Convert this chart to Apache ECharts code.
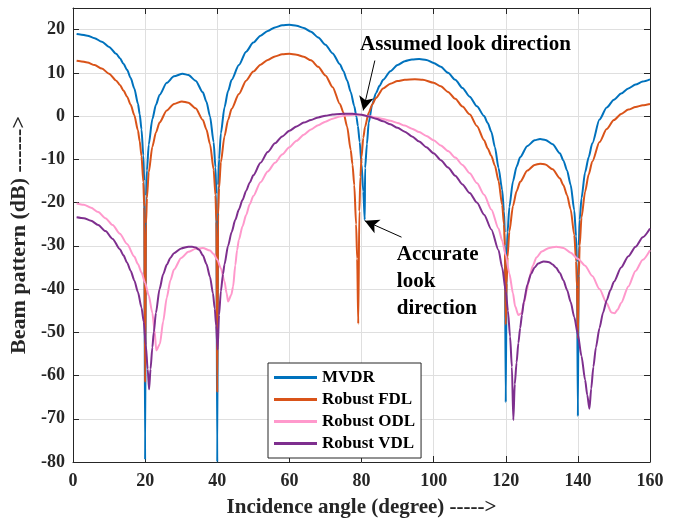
<!DOCTYPE html>
<html>
<head>
<meta charset="utf-8">
<script src="https://cdn.jsdelivr.net/npm/echarts@6/dist/echarts.min.js"></script>
<style>
  html, body { margin: 0; padding: 0; background: #fff; }
  #chart { width: 680px; height: 523px; }
</style>
</head>
<body>
<div id="chart"></div>
<script>
// Beam patterns (dB) versus incidence angle (degree)
const xTicks = [0, 20, 40, 60, 80, 100, 120, 140, 160];
const yTicks = [-80, -70, -60, -50, -40, -30, -20, -10, 0, 10, 20];
const seriesNames = ['MVDR', 'Robust FDL', 'Robust ODL', 'Robust VDL'];

const mvdrAngle = [1, 2, 4, 6, 8, 10, 12, 13, 14, 15, 16, 17, 18, 18.5, 19, 19.5, 19.75, 20,
  20.25, 20.5, 21, 22, 23, 24, 26, 28, 30.4, 32, 34, 36, 37, 38, 39, 39.5, 39.75, 40,
  40.25, 40.5, 41, 42, 43, 44, 46, 48, 50, 52, 54, 56, 58, 60, 62, 64, 66, 68, 70, 72, 74, 75, 76, 77, 78, 78.6, 79, 79.5, 80, 80.5, 80.9,
  81, 81.5, 82, 83, 84, 85, 86, 88, 90, 92, 94, 96, 98, 100, 102, 104, 106, 108, 110, 112, 114, 115, 116, 117, 118, 119, 119.5, 119.75, 120,
  120.25, 120.5, 121, 122, 123, 124, 126, 128, 129.5, 131, 133, 135, 136, 137, 138, 139, 139.5, 139.75, 140,
  140.25, 140.5, 141, 142, 143, 144, 146, 148, 150, 152, 154, 156, 158, 160];
const mvdrGain = [19.0, 18.9, 18.6, 18.0, 17.2, 16.0, 14.4, 13.4, 12.1, 10.7, 8.8, 6.4, 2.9, 0.4, -3.1, -9.1, -15, -79.5,
  -18.5, -12.6, -6.6, -0.7, 2.6, 4.9, 7.7, 9.2, 9.8, 9.5, 8.2, 5.5, 3.3, -0.1, -6.0, -11.9, -18, -80,
  -16, -10, -4, 2.0, 5.8, 8.4, 11.8, 14.9, 17.0, 18.6, 19.7, 20.5, 21.0, 21.1, 20.9, 20.4, 19.5, 18.2, 16.5, 14.5, 12.0, 10.4, 8.3, 5.6, 2.3, -0.2, -2.3, -6, -11, -17.5, -24,
  -12, -6.5, -1.5, 2.8, 5.3, 7.0, 8.4, 10.4, 11.8, 12.7, 13.1, 13.2, 13.0, 12.3, 11.4, 10.0, 8.4, 6.5, 4.5, 2.3, 0.0, -1.6, -3.6, -7.2, -12, -17, -22, -27, -66.2,
  -33, -26.9, -21, -15.1, -11.7, -9.5, -6.9, -5.6, -5.3, -5.5, -6.5, -8.6, -10.3, -12.6, -15.9, -21.8, -27.8, -33.8, -69.4,
  -30, -24, -19, -13, -9.5, -6.3, -0.8, 2.0, 3.8, 5.2, 6.4, 7.3, 8.0, 8.5];

const fdlAngle = [1, 2, 4, 6, 8, 10, 12, 13, 14, 15, 16, 17, 18, 18.5, 19, 19.5, 19.75, 20,
  20.25, 20.5, 21, 22, 23, 24, 26, 28, 30.2, 32, 34, 36, 37, 38, 39, 39.5, 39.75, 40,
  40.25, 40.5, 41, 42, 43, 44, 46, 48, 50, 52, 54, 56, 58, 60, 62, 64, 66, 68, 70, 72, 74, 75, 76, 77, 77.5, 78, 78.5, 78.8, 79.1,
  79.4, 79.7, 80, 80.5, 81, 82, 83, 84, 86, 88, 90, 92, 94.8, 97, 100, 102, 104, 106, 108, 110, 112, 114, 115, 116, 117, 118, 119, 119.5, 119.75, 120,
  120.25, 120.5, 121, 122, 123, 124, 126, 128, 129.5, 131, 133, 135, 136, 137, 138, 139, 139.5, 139.75, 140,
  140.25, 140.5, 141, 142, 143, 144, 146, 148, 150, 152, 154, 156, 158, 160];
const fdlGain = [12.8, 12.7, 12.4, 11.8, 11.0, 9.8, 8.2, 7.2, 5.9, 4.5, 2.6, 0.2, -3.3, -5.8, -9.3, -15.3, -21, -61.6,
  -24.9, -19, -13, -7.1, -3.8, -1.5, 1.3, 2.8, 3.4, 3.1, 1.8, -0.9, -3.1, -6.5, -12.4, -18.3, -24.4, -63.9,
  -22.7, -16.7, -10.7, -4.7, -0.9, 1.7, 5.1, 8.2, 10.3, 11.9, 13.0, 13.8, 14.3, 14.4, 14.2, 13.7, 12.9, 11.4, 9.4, 6.7, 2.8, 0.8, -2.4, -7.8, -11.2, -16, -25, -33, -48,
  -22, -14, -9.5, -5, -2.4, 0.8, 2.7, 4.2, 6.4, 7.5, 8.1, 8.4, 8.5, 8.4, 7.7, 6.9, 5.6, 4.0, 2.2, 0.4, -2.3, -5.6, -7.5, -9.2, -11.5, -15, -20.5, -25, -30, -48.2,
  -38.7, -32.6, -26.7, -20.8, -17.4, -15.2, -12.6, -11.3, -11.0, -11.2, -12.3, -14.4, -16.0, -18.3, -21.6, -27.5, -33.5, -39.5, -51.3,
  -37, -30, -23.5, -17.5, -13.5, -10.5, -6.0, -3.0, -0.9, 0.5, 1.5, 2.1, 2.5, 2.8];

const odlAngle = [1, 3, 5, 7, 9, 11, 13, 15, 17, 18, 19, 20, 21, 22, 22.6, 23.1,
  24.1, 25, 26, 27, 28, 30, 32, 34, 36, 38, 39, 40, 41, 42, 42.6, 43,
  43.9, 44.4, 45, 45.5, 46, 47, 48, 49, 50, 52, 54, 56, 58, 60, 62, 64, 66, 68, 70, 72, 74, 76, 78, 80,
  82, 84, 86, 88, 90, 92, 94, 96, 98, 100, 102, 104, 106, 108, 110, 112, 114, 116, 118, 119, 120, 121, 122, 122.6, 123.5,
  124.4, 125, 125.8, 126.5, 127.5, 128.5, 130, 132, 134, 136, 138, 140, 142, 144, 146, 148, 149.3, 150.2,
  151, 152, 154, 156, 158, 160];
const odlGain = [-20.2, -20.5, -21.2, -22.2, -23.6, -25.2, -27.2, -29.6, -32.5, -34.2, -36.2, -38.6, -41.5, -45.5, -49.5, -54.2,
  -52.7, -47.5, -42, -38, -35.5, -32.8, -31.4, -30.7, -30.5, -31.1, -31.9, -33.2, -35.2, -38.2, -41, -42.9,
  -41.3, -39.4, -34.5, -31.0, -28.6, -25.5, -22.9, -20.4, -18.5, -15.3, -12.8, -10.8, -8.9, -7.2, -5.7, -4.3, -3.1, -2.1, -1.3, -0.6, -0.1, 0.2, 0.3, 0.3,
  0.0, -0.3, -0.7, -1.1, -1.6, -2.2, -2.9, -3.7, -4.6, -5.6, -6.8, -8.1, -9.6, -11.3, -13.2, -15.5, -18.2, -21.6, -26, -28.8, -32.2, -36.4, -41, -44, -46,
  -45.6, -43.3, -40.5, -37.5, -34.6, -32.7, -31.3, -30.5, -30.2, -30.5, -31.6, -33.0, -34.6, -37, -40, -43.3, -45.4, -45.6,
  -44.8, -43.2, -39.4, -35.8, -33.2, -31.0];

const vdlAngle = [1, 3, 5, 7, 9, 11, 13, 14, 15, 16, 17, 18, 19, 19.6, 20.2, 20.7, 21.1,
  21.5, 22, 22.4, 23, 24, 25, 26, 27, 28, 30, 32, 33, 34, 35, 36, 37, 38, 38.8, 39.3, 39.7, 40.1,
  40.5, 41, 41.6, 42, 43, 44, 45, 46, 47, 48, 49, 50, 52, 54, 56, 58, 60, 62, 64, 66, 68, 70, 72, 74, 76, 77, 78, 80,
  82, 84, 86, 88, 90, 92, 94, 96, 98, 100, 102, 104, 106, 108, 110, 112, 114, 116, 118, 119, 120, 120.6, 121.2, 121.7, 122.1,
  122.5, 123, 123.5, 124, 124.5, 125, 126, 127, 128, 129, 130.5, 132, 133, 134, 135, 136, 137, 138, 139, 140, 141, 142, 142.6, 143.2,
  143.7, 144.3, 145, 146, 147, 148, 149, 150, 152, 154, 156, 158, 160];
const vdlGain = [-23.4, -23.6, -24.2, -25.2, -26.6, -28.4, -30.8, -32.2, -33.9, -35.8, -38.0, -40.7, -44.3, -47.5, -53, -58.5, -63.2,
  -58.5, -53.5, -50, -45.5, -40, -36.6, -34.4, -32.8, -31.7, -30.6, -30.2, -30.2, -30.4, -30.9, -32.2, -34.2, -37.2, -41, -44.5, -48.5, -54,
  -46, -40.5, -36.5, -34.3, -30, -26.8, -24.0, -21.6, -19.4, -17.3, -15.4, -13.7, -10.8, -8.3, -6.3, -4.7, -3.4, -2.4, -1.5, -0.9, -0.3, 0.1, 0.35, 0.5, 0.55, 0.55, 0.5, 0.3,
  -0.1, -0.6, -1.2, -1.9, -2.7, -3.6, -4.7, -5.9, -7.2, -8.6, -10.2, -11.9, -13.8, -15.8, -17.8, -20.0, -22.8, -26.2, -31, -35, -40.5, -45, -51, -58, -70.3,
  -62, -57, -52.5, -49, -46, -43, -39, -36.5, -35, -34.1, -33.6, -33.8, -34.3, -35.1, -36.3, -38, -40.2, -43, -46.5, -50.5, -55.5, -61, -64.5, -67.7,
  -63, -58, -53.5, -49, -45.4, -42.6, -40.3, -38.3, -35, -32.4, -30.2, -28, -26.0];

// Annotation arrows: [tail angle, tail dB, head angle, head dB]
const assumedArrow = [83.7, 12.85, 80.47, 1.3];
const accurateArrow = [91.1, -28.0, 80.9, -24.2];

const colors = ['#0072BD', '#D95319', '#FF99CC', '#7E2F8E'];
const FONT = '"Liberation Serif", "Times New Roman", serif';
const INK = '#262626';

const pairs = (a, g) => a.map((x, i) => [x, g[i]]);
const curves = [pairs(mvdrAngle, mvdrGain), pairs(fdlAngle, fdlGain), pairs(odlAngle, odlGain), pairs(vdlAngle, vdlGain)];

const chart = echarts.init(document.getElementById('chart'), null, { renderer: 'canvas' });

const tickLabel = { fontFamily: FONT, fontWeight: 'bold', fontSize: 18, color: INK };
const axisLine = { show: true, onZero: false, lineStyle: { color: INK, width: 1 } };
const innerTick = { show: true, inside: true, length: 6, lineStyle: { color: INK, width: 1 } };
const gridLine = { show: true, lineStyle: { color: '#dfdfdf', width: 1 } };

const arrowLine = (a) => [
  { coord: [a[0], a[1]], symbol: 'none' },
  { coord: [a[2], a[3]], symbol: 'arrow' }
];

chart.setOption({
  animation: false,
  backgroundColor: '#ffffff',
  grid: { left: 73, right: 30, top: 8, bottom: 60, containLabel: false },
  xAxis: [
    {
      type: 'value', min: xTicks[0], max: xTicks[xTicks.length - 1], interval: 20, position: 'bottom',
      axisLine, axisTick: innerTick, splitLine: gridLine,
      axisLabel: { ...tickLabel, margin: 10 },
      name: 'Incidence angle (degree) ----->', nameLocation: 'middle', nameGap: 35,
      nameTextStyle: { fontFamily: FONT, fontWeight: 'bold', fontSize: 21, color: INK }
    },
    {
      type: 'value', min: xTicks[0], max: xTicks[xTicks.length - 1], interval: 20, position: 'top',
      axisLine, axisTick: innerTick, splitLine: { show: false }, axisLabel: { show: false }
    }
  ],
  yAxis: [
    {
      type: 'value', min: yTicks[0], max: 25, interval: 10, position: 'left',
      axisLine, axisTick: innerTick, splitLine: gridLine,
      axisLabel: { ...tickLabel, margin: 8, showMaxLabel: false },
      name: 'Beam pattern (dB) ------>', nameLocation: 'middle', nameGap: 35,
      nameTextStyle: { fontFamily: FONT, fontWeight: 'bold', fontSize: 22, color: INK }
    },
    {
      type: 'value', min: yTicks[0], max: 25, interval: 10, position: 'right',
      axisLine, axisTick: innerTick, splitLine: { show: false }, axisLabel: { show: false }
    }
  ],
  legend: {
    orient: 'vertical', left: 268, top: 363,
    padding: [6, 6, 6, 6], itemGap: 5, itemWidth: 43, itemHeight: 3, icon: 'rect',
    backgroundColor: '#ffffff', borderColor: INK, borderWidth: 1, borderRadius: 0,
    textStyle: { fontFamily: FONT, fontWeight: 'bold', fontSize: 17, color: '#000' },
    data: seriesNames
  },
  series: seriesNames.map((name, i) => ({
    name, type: 'line', data: curves[i], xAxisIndex: 0, yAxisIndex: 0,
    symbol: 'none', showSymbol: false, clip: true, z: 2 + i,
    smooth: 0.25, smoothMonotone: 'x',
    lineStyle: { color: colors[i], width: 2 }, itemStyle: { color: colors[i] },
    markLine: i === 0 ? {
      silent: true, symbol: ['none', 'arrow'], symbolSize: [11, 14],
      lineStyle: { color: '#000', width: 1, type: 'solid' },
      label: { show: false }, emphasis: { disabled: true },
      data: [arrowLine(assumedArrow), arrowLine(accurateArrow)]
    } : undefined
  }))
});

// Text annotations anchored in data coordinates
const pAssumed = chart.convertToPixel({ gridIndex: 0 }, [79.6, 16.3]);
const pAccurate = chart.convertToPixel({ gridIndex: 0 }, [89.8, -29.0]);
const noteStyle = { fontFamily: FONT, fontWeight: 'bold', fontSize: 21, fill: '#000' };
chart.setOption({
  graphic: [
    { type: 'text', left: pAssumed[0], top: pAssumed[1] - 12, z: 20,
      style: { ...noteStyle, text: 'Assumed look direction' } },
    { type: 'text', left: pAccurate[0], top: pAccurate[1], z: 20,
      style: { ...noteStyle, text: 'Accurate\nlook\ndirection', lineHeight: 26.7 } }
  ]
});
</script>
</body>
</html>
